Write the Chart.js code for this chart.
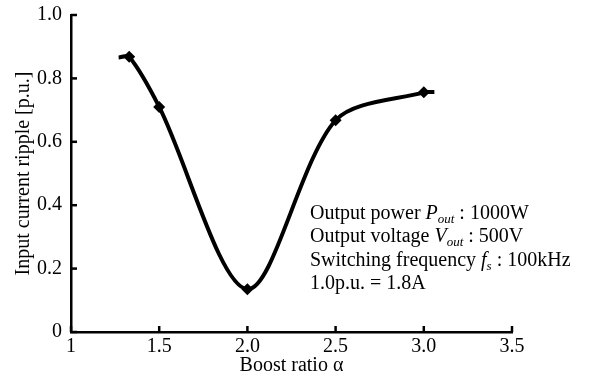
<!DOCTYPE html>
<html>
<head>
<meta charset="utf-8">
<script src="https://cdn.jsdelivr.net/npm/chart.js@4/dist/chart.umd.min.js"></script>
<style>
  html, body { margin: 0; padding: 0; background: #fff; }
  #wrap { width: 599px; height: 378px; }
</style>
</head>
<body>
<div id="wrap"><canvas id="rippleChart"></canvas></div>
<script>
// values
const boostRatio = [1.27, 1.33, 1.5, 2.0, 2.5, 3.0, 3.06];
const inputRipple = [0.866, 0.868, 0.71, 0.135, 0.668, 0.756, 0.757];
const hasMarker = [false, true, true, true, true, true, false];
const xTickLabels = ["1", "1.5", "2.0", "2.5", "3.0", "3.5"];
const yTickLabels = ["0", "0.2", "0.4", "0.6", "0.8", "1.0"];
const noteLines = [
  [["Output power ", ""], ["P", "i"], ["out", "sub"], [" : 1000W", ""]],
  [["Output voltage ", ""], ["V", "i"], ["out", "sub"], [" : 500V", ""]],
  [["Switching frequency ", ""], ["f", "i"], ["s", "sub"], [" : 100kHz", ""]],
  [["1.0p.u. = 1.8A", ""]]
];

const serif = "'Liberation Serif', 'Times New Roman', serif";

// ticks point into the plot, so draw them by hand from the scales
const inwardTicks = {
  id: "inwardTicks",
  afterDraw(chart) {
    const ctx = chart.ctx;
    const x = chart.scales.x, y = chart.scales.y;
    ctx.save();
    ctx.strokeStyle = "#000";
    ctx.lineWidth = 2.5;
    x.ticks.forEach(t => {
      const px = x.getPixelForValue(t.value);
      ctx.beginPath();
      ctx.moveTo(px, y.bottom);
      ctx.lineTo(px, y.bottom - 6);
      ctx.stroke();
    });
    y.ticks.forEach(t => {
      const py = y.getPixelForValue(t.value);
      ctx.beginPath();
      ctx.moveTo(x.left, py);
      ctx.lineTo(x.left + 6, py);
      ctx.stroke();
    });
    ctx.restore();
  }
};

// parameter box text with italic symbols and subscripts
const noteText = {
  id: "noteText",
  afterDraw(chart) {
    const ctx = chart.ctx;
    ctx.save();
    ctx.fillStyle = "#000";
    ctx.textBaseline = "alphabetic";
    let baseY = 219;
    noteLines.forEach(parts => {
      let cx = 310;
      parts.forEach(([txt, style]) => {
        let dy = 0;
        if (style === "i") ctx.font = "italic 20px " + serif;
        else if (style === "sub") { ctx.font = "italic 13px " + serif; dy = 4; }
        else ctx.font = "20px " + serif;
        ctx.fillText(txt, cx, baseY + dy);
        cx += ctx.measureText(txt).width;
      });
      baseY += 23.3;
    });
    ctx.restore();
  }
};

const ctx = document.getElementById("rippleChart").getContext("2d");
new Chart(ctx, {
  type: "line",
  data: {
    datasets: [{
      data: boostRatio.map((b, i) => ({ x: b, y: inputRipple[i] })),
      borderColor: "#000",
      backgroundColor: "#000",
      borderWidth: 4,
      tension: 0.3,
      pointStyle: "rectRot",
      pointRadius: hasMarker.map(m => m ? 6 : 0),
      pointBorderWidth: 0,
      fill: false
    }]
  },
  options: {
    responsive: true,
    maintainAspectRatio: false,
    animation: false,
    layout: { padding: { top: 15, right: 87, left: 0, bottom: 0 } },
    plugins: {
      legend: { display: false },
      tooltip: { enabled: false }
    },
    scales: {
      x: {
        type: "linear",
        min: 1,
        max: 3.5,
        grid: { display: false, drawTicks: false },
        border: { display: true, color: "#000", width: 2.5 },
        ticks: {
          stepSize: 0.5,
          padding: 3,
          color: "#000",
          font: { family: serif, size: 20 },
          callback: (v, i) => xTickLabels[i]
        },
        title: {
          display: true,
          text: "Boost ratio α",
          color: "#000",
          font: { family: serif, size: 20 },
          padding: { top: 0, bottom: 0 }
        },
        afterFit: s => { s.height = 46; s.paddingLeft = 0; s.paddingRight = 0; }
      },
      y: {
        min: 0,
        max: 1,
        grid: { display: false, drawTicks: false },
        border: { display: true, color: "#000", width: 2.5 },
        ticks: {
          stepSize: 0.2,
          padding: 9,
          color: "#000",
          font: { family: serif, size: 20 },
          callback: (v, i) => yTickLabels[i]
        },
        title: {
          display: true,
          text: "Input current ripple [p.u.]",
          color: "#000",
          font: { family: serif, size: 20 },
          padding: { top: 12, bottom: 0 }
        },
        afterFit: s => { s.width = 71; s.paddingTop = 0; s.paddingBottom = 0; }
      }
    }
  },
  plugins: [inwardTicks, noteText]
});
</script>
</body>
</html>
